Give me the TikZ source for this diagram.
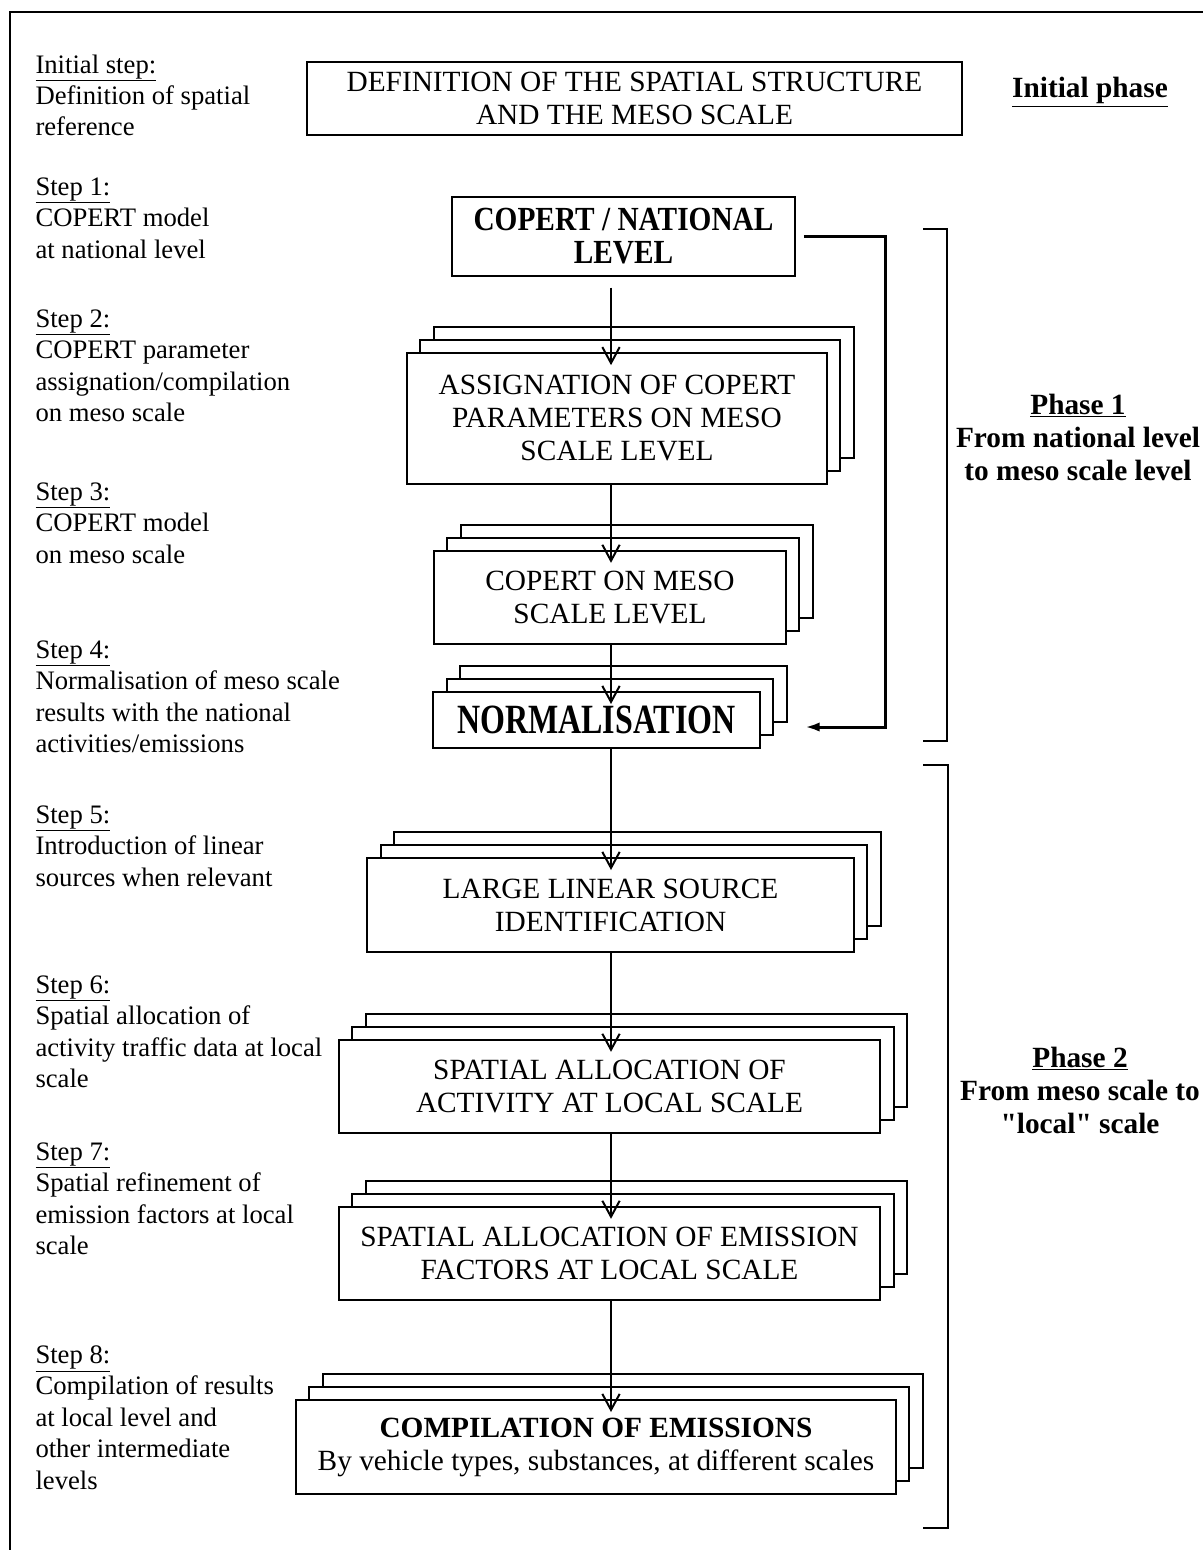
\documentclass[tikz,border=0pt]{standalone}
\usepackage{fontspec}
\setmainfont{Liberation Serif}[Ligatures=TeXOff]
\usetikzlibrary{arrows.meta,shadows}

\tikzset{every picture/.style={line width=0.75pt}}
\tikzset{
  stepbox/.style={draw, fill=white, line width=1.5pt, align=center, inner sep=0pt,
    font=\fontsize{22}{24.75}\selectfont},
  stackbox/.style={stepbox, double copy shadow={shadow xshift=10pt, shadow yshift=9.75pt}},
  steplabel/.style={anchor=north west, align=left, inner sep=0pt,
    font=\fontsize{20}{23.6}\selectfont},
  phaselabel/.style={align=center, inner sep=0pt,
    font=\bfseries\fontsize{22}{24.75}\selectfont},
  flow/.style={line width=1.5pt, -{Straight Barb[length=12pt,width=13pt,line width=1.5pt]}},
  feedback/.style={line width=2.25pt, -{Latex[length=11pt,width=7pt]}},
  bracket/.style={line width=1.5pt},
}
\newcommand{\tallbold}[1]{\scalebox{1}[1.15]{#1}}

\begin{document}
\begin{tikzpicture}[x=0.75pt,y=0.75pt,yscale=-1,xscale=1]
\useasboundingbox (0,0) rectangle (1203,1550);

%Straight Lines: frame
\draw [line width=1.5pt] (10,1550) -- (10,12) -- (1203,12) ;

%Shape: Rectangle: initial step
\node [stepbox, minimum width=491pt, minimum height=55pt] (spatial) at (634.5,98.5)
  {DEFINITION OF THE SPATIAL STRUCTURE\\AND THE MESO SCALE};
%Shape: Rectangle: step 1
\node [stepbox, minimum width=257pt, minimum height=59pt, font=\bfseries\fontsize{22}{24.75}\selectfont] (national) at (623.5,236.5)
  {\tallbold{COPERT / NATIONAL}\\\tallbold{LEVEL}};
%Shape: Stack: step 2
\node [stackbox, minimum width=315pt, minimum height=98pt] (assign) at (617,418.5)
  {ASSIGNATION OF COPERT\\PARAMETERS ON MESO\\SCALE LEVEL};
%Shape: Stack: step 3
\node [stackbox, minimum width=264pt, minimum height=70pt] (meso) at (610,597.5)
  {COPERT ON MESO\\SCALE LEVEL};
%Shape: Stack: step 4
\node [stackbox, minimum width=245pt, minimum height=42pt, font=\bfseries\fontsize{24}{28}\selectfont] (norm) at (596.5,720)
  {\scalebox{1}[1.3]{NORMALISATION}};
%Shape: Stack: step 5
\node [stackbox, minimum width=365pt, minimum height=70.5pt] (linear) at (610.5,905)
  {LARGE LINEAR SOURCE\\IDENTIFICATION};
%Shape: Stack: step 6
\node [stackbox, minimum width=406pt, minimum height=70pt] (activity) at (609.5,1086.5)
  {SPATIAL ALLOCATION OF\\ACTIVITY AT LOCAL SCALE};
%Shape: Stack: step 7
\node [stackbox, minimum width=406pt, minimum height=70pt] (factors) at (609.5,1253.5)
  {SPATIAL ALLOCATION OF EMISSION\\FACTORS AT LOCAL SCALE};
%Shape: Stack: step 8
\node [stackbox, minimum width=450pt, minimum height=70.5pt] (compile) at (596,1447)
  {\textbf{COMPILATION OF EMISSIONS}\\By vehicle types, substances, at different scales};

%Straight Lines: main flow
\coordinate (spine) at (611,0);
\draw [flow, shorten <=8pt, shorten >=-9.75pt] (national.south -| spine) -- (assign.north -| spine) ;
\draw [flow, shorten >=-9.75pt] (assign.south -| spine) -- (meso.north -| spine) ;
\draw [flow, shorten >=-9.75pt] (meso.south -| spine) -- (norm.north -| spine) ;
\draw [flow, shorten >=-9.75pt] (norm.south -| spine) -- (linear.north -| spine) ;
\draw [flow, shorten >=-9.75pt] (linear.south -| spine) -- (activity.north -| spine) ;
\draw [flow, shorten >=-9.75pt] (activity.south -| spine) -- (factors.north -| spine) ;
\draw [flow, shorten >=-9.75pt] (factors.south -| spine) -- (compile.north -| spine) ;

%Straight Lines: normalisation loop
\coordinate (fbx) at (885,0);
\coordinate (fbin) at (805,727);
\draw [feedback, shorten <=6pt] (national.east) -- (national.east -| fbx) -- (fbx |- fbin) -- (fbin) ;

%Straight Lines: phase brackets
\draw [bracket] (923,229) -- (947,229) -- (947,741) -- (923,741) ;
\draw [bracket] (923,765) -- (948,765) -- (948,1528) -- (923,1528) ;

% Text Node
\node [phaselabel] (initphase) at (1090,92) {\underline{Initial phase}};
% Text Node
\node [phaselabel] (phaseone) at (1078,437) {\underline{Phase 1}\\From national level\\to meso scale level};
% Text Node
\node [phaselabel] (phasetwo) at (1080,1090) {\underline{Phase 2}\\From meso scale to\\"local" scale};

% Text Node
\node [steplabel] (lbl0) at (35,54) {\underline{Initial step:}\\Definition of spatial\\reference};
% Text Node
\node [steplabel] (lbl1) at (35,177) {\underline{Step 1:}\\COPERT model\\at national level};
% Text Node
\node [steplabel] (lbl2) at (35,309) {\underline{Step 2:}\\COPERT parameter\\assignation/compilation\\on meso scale};
% Text Node
\node [steplabel] (lbl3) at (35,482) {\underline{Step 3:}\\COPERT model\\on meso scale};
% Text Node
\node [steplabel] (lbl4) at (35,640) {\underline{Step 4:}\\Normalisation of meso scale\\results with the national\\activities/emissions};
% Text Node
\node [steplabel] (lbl5) at (35,805) {\underline{Step 5:}\\Introduction of linear\\sources when relevant};
% Text Node
\node [steplabel] (lbl6) at (35,975) {\underline{Step 6:}\\Spatial allocation of\\activity traffic data at local\\scale};
% Text Node
\node [steplabel] (lbl7) at (35,1142) {\underline{Step 7:}\\Spatial refinement of\\emission factors at local\\scale};
% Text Node
\node [steplabel] (lbl8) at (35,1345) {\underline{Step 8:}\\Compilation of results\\at local level and\\other intermediate\\levels};

\end{tikzpicture}
\end{document}
